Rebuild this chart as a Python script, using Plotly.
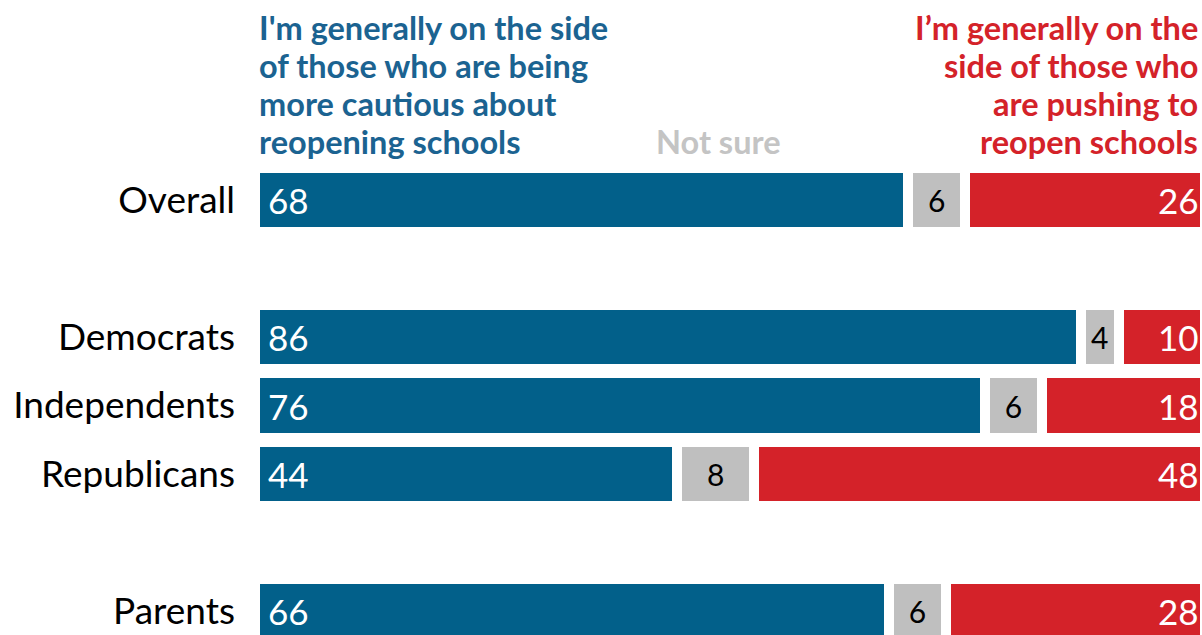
import plotly.graph_objects as go

groups = ["Overall", "Democrats", "Independents", "Republicans", "Parents"]
cautious = [68, 86, 76, 44, 66]
not_sure = [6, 4, 6, 8, 6]
reopen = [26, 10, 18, 48, 28]

header_cautious = ["I'm generally on the side", "of those who are being",
                   "more cautious about", "reopening schools"]
header_reopen = ["I’m generally on the", "side of those who",
                 "are pushing to", "reopen schools"]
header_not_sure = "Not sure"

# row slots (blank slots separate the groups)
rows = [0, 2, 3, 4, 6]

BLUE = "#02608a"
HEAD_BLUE = "#1b6391"
RED = "#d42229"
GREY = "#bfbfbf"
FONT = "Lato"

W, H = 1202, 635
L, R = 250, 2
PX_PER_UNIT = 9.6
X0_PX = 255
xmin = (L - X0_PX) / PX_PER_UNIT
xmax = xmin + (W - L - R) / PX_PER_UNIT

ROW_PX = 68.5
Y0_PX = 200
ytop = -Y0_PX / ROW_PX
ybot = (H - Y0_PX) / ROW_PX

fig = go.Figure()
common = dict(orientation="h", width=0.935, marker_line=dict(color="white", width=10),
              hoverinfo="skip", constraintext="none", cliponaxis=True)
fig.add_trace(go.Bar(y=rows, x=cautious, marker_color=BLUE, **common))
fig.add_trace(go.Bar(y=rows, x=not_sure, marker_color=GREY, text=[str(v) for v in not_sure],
                     textposition="inside", insidetextanchor="middle",
                     textfont=dict(family=FONT, size=30, color="black"), **common))
fig.add_trace(go.Bar(y=rows, x=reopen, marker_color=RED, **common))

annotations = []
for r, v in zip(rows, cautious):
    annotations.append(dict(text=str(v), xref="x", x=0, xanchor="left", xshift=11,
                            yref="y", y=r, yanchor="middle", showarrow=False,
                            font=dict(family=FONT, size=35, color="white")))
for r, v in zip(rows, reopen):
    annotations.append(dict(text=str(v), xref="paper", x=1, xanchor="right", xshift=1,
                            yref="y", y=r, yanchor="middle", showarrow=False,
                            font=dict(family=FONT, size=35, color="white")))

LINE_CENTERS = [27, 65, 103, 141]
for line, yc in zip(header_cautious, LINE_CENTERS):
    annotations.append(dict(text=line, xref="x", x=0, xanchor="left", xshift=2,
                            yref="paper", y=1 - yc / H, yanchor="middle", showarrow=False,
                            font=dict(family=FONT, size=32.5, color=HEAD_BLUE, weight="bold")))
for line, yc in zip(header_reopen, LINE_CENTERS):
    annotations.append(dict(text=line, xref="paper", x=1, xanchor="right", xshift=0,
                            yref="paper", y=1 - yc / H, yanchor="middle", showarrow=False,
                            font=dict(family=FONT, size=32.5, color=RED, weight="bold")))
annotations.append(dict(text=header_not_sure, xref="paper", x=(718 - L) / (W - L - R),
                        xanchor="center", yref="paper", y=1 - 141 / H, yanchor="middle",
                        showarrow=False,
                        font=dict(family=FONT, size=32.5, color="#c4c4c4", weight="bold")))

fig.update_layout(
    barmode="stack", width=W, height=H, showlegend=False,
    margin=dict(l=L, r=R, t=0, b=0),
    plot_bgcolor="white", paper_bgcolor="white",
    xaxis=dict(range=[xmin, xmax], visible=False, fixedrange=True),
    yaxis=dict(range=[ybot, ytop], tickvals=rows, ticktext=groups, showgrid=False,
               zeroline=False, showline=False, ticks="", ticklabelstandoff=14,
               fixedrange=True,
               tickfont=dict(family=FONT, size=37, color="black")),
    annotations=annotations,
)

fig.write_html("out.html", config={"displayModeBar": False},
               post_script="document.body.style.margin='0';")
